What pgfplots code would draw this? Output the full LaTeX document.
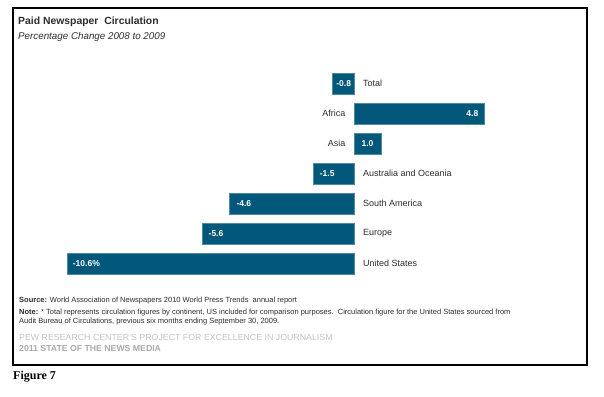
\documentclass[border=0pt]{standalone}
\usepackage{pgfplots}
\pgfplotsset{compat=1.18}
\usepackage{fontspec}
\setmainfont{Liberation Sans}
\newfontfamily\serifb{Liberation Serif}
\definecolor{barblue}{RGB}{2,88,122}
\definecolor{labgray}{RGB}{45,45,45}
\definecolor{pewgray}{RGB}{195,195,195}
\definecolor{pewgray2}{RGB}{170,170,170}
\tikzset{
  valnode/.style={font=\bfseries\fontsize{8.5bp}{10bp}\selectfont, text=white, inner sep=0pt},
  catnode/.style={font=\fontsize{9bp}{11bp}\selectfont, text=labgray, inner sep=0pt},
}
\begin{document}
\begin{tikzpicture}
\path[use as bounding box] (0bp,0bp) rectangle (604bp,-397bp);
\begin{axis}[
  at={(29.4bp,-278.5bp)}, anchor=south west,
  scale only axis, width=541bp, height=210bp,
  xmin=-12, xmax=8, ymin=-0.5, ymax=6.5,
  hide axis, xbar, bar width=21bp,
  clip=false,
]
\addplot[fill=barblue, draw=barblue!70!white, line width=0.4bp] coordinates {
  (-10.6,0) (-5.6,1) (-4.6,2) (-1.5,3) (1.0,4) (4.8,5) (-0.8,6)
};
% value labels
\node[valnode, anchor=west] at (axis cs:-10.4,0) {-10.6\%};
\node[valnode, anchor=west] at (axis cs:-5.38,1) {-5.6};
\node[valnode, anchor=west] at (axis cs:-4.35,2) {-4.6};
\node[valnode, anchor=west] at (axis cs:-1.27,3) {-1.5};
\node[valnode] at (axis cs:0.5,4) {1.0};
\node[valnode, anchor=east] at (axis cs:4.6,5) {4.8};
\node[valnode] at (axis cs:-0.38,6) {-0.8};
% category labels
\node[catnode, anchor=west] at (axis cs:0.33,0) {United States};
\node[catnode, anchor=west] at (axis cs:0.33,1) {Europe};
\node[catnode, anchor=west] at (axis cs:0.33,2) {South America};
\node[catnode, anchor=west] at (axis cs:0.33,3) {Australia and Oceania};
\node[catnode, anchor=east] at (axis cs:-0.31,4) {Asia};
\node[catnode, anchor=east] at (axis cs:-0.31,5) {Africa};
\node[catnode, anchor=west] at (axis cs:0.33,6) {Total};
\end{axis}
\begin{scope}[x=1bp,y=-1bp]
\draw[line width=1.1bp] (13,8) rectangle (587,365);
\node[anchor=west, inner sep=0pt, font=\bfseries\fontsize{10.4bp}{12bp}\selectfont, text=labgray] at (18,22) {Paid Newspaper\ \ Circulation};
\node[anchor=west, inner sep=0pt, font=\itshape\fontsize{9.8bp}{11bp}\selectfont, text=labgray] at (18,37) {Percentage Change 2008 to 2009};
\node[anchor=west, inner sep=0pt, font=\fontsize{7.5bp}{8bp}\selectfont, text=labgray] at (19,301) {\textbf{Source:} World Association of Newspapers 2010 World Press Trends\ \ annual report};
\node[anchor=west, inner sep=0pt, font=\fontsize{7.5bp}{8bp}\selectfont, text=labgray] at (19,312.5) {\textbf{Note:} * Total represents\ circulation figures\ by continent, US included\ for comparison purposes.\ \ Circulation figure for the United States sourced from};
\node[anchor=west, inner sep=0pt, font=\fontsize{7.5bp}{8bp}\selectfont, text=labgray] at (19,321.5) {Audit Bureau\ of Circulations, previous six months ending\ September 30,\ 2009.};
\node[anchor=west, inner sep=0pt, font=\fontsize{8.8bp}{10bp}\selectfont, text=pewgray] at (19,337) {PEW RESEARCH CENTER'S PROJECT FOR EXCELLENCE IN JOURNALISM};
\node[anchor=west, inner sep=0pt, font=\bfseries\fontsize{8.7bp}{10bp}\selectfont, text=pewgray2] at (19,349) {2011 STATE OF THE NEWS MEDIA};
\node[anchor=west, inner sep=0pt, font=\serifb\bfseries\fontsize{12bp}{13bp}\selectfont] at (13,377) {Figure 7};
\end{scope}
\end{tikzpicture}
\end{document}
